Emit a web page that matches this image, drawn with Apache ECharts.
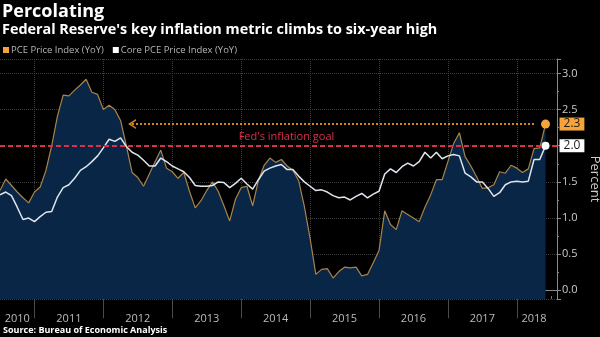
<!DOCTYPE html>
<html>
<head>
<meta charset="utf-8">
<script src="https://cdn.jsdelivr.net/npm/echarts@6/dist/echarts.min.js"></script>
<style>
  html, body { margin: 0; padding: 0; background: #000; }
  #chart { width: 600px; height: 337px; }
</style>
</head>
<body>
<div id="chart"></div>
<script>
// Month-end categories, June 2010 through July 2018
const months = [];
for (let y = 2010, m = 6; y < 2018 || (y === 2018 && m <= 7); m++) {
  if (m > 12) { m = 1; y++; }
  months.push(y + '-' + String(m).padStart(2, '0'));
}

// Where each year's label sits along the axis
const yearLabelMonths = ['2010-09', '2011-06', '2012-06', '2013-06', '2014-06',
                         '2015-06', '2016-06', '2017-06', '2018-03'];

// Personal consumption expenditures price index, % change year over year
const pce = [1.38, 1.54, 1.45, 1.36, 1.28, 1.21, 1.36, 1.43, 1.66, 2.00,
             2.41, 2.70, 2.69, 2.77, 2.84, 2.92, 2.74, 2.71, 2.50, 2.56,
             2.50, 2.35, 2.00, 1.63, 1.56, 1.44, 1.61, 1.78, 1.94, 1.69,
             1.64, 1.55, 1.63, 1.37, 1.14, 1.24, 1.38, 1.50, 1.37, 1.17,
             0.96, 1.26, 1.42, 1.44, 1.17, 1.52, 1.73, 1.83, 1.77, 1.81,
             1.72, 1.66, 1.52, 1.16, 0.72, 0.22, 0.29, 0.30, 0.17, 0.26,
             0.32, 0.31, 0.32, 0.20, 0.22, 0.38, 0.55, 1.10, 0.91, 0.84,
             1.10, 1.05, 1.00, 0.95, 1.15, 1.32, 1.53, 1.53, 1.78, 2.03,
             2.18, 1.85, 1.72, 1.57, 1.41, 1.42, 1.46, 1.64, 1.62, 1.73,
             1.69, 1.63, 1.68, 1.96, 1.97, 2.3];

// Core PCE (excluding food and energy), % change year over year
const core = [1.32, 1.36, 1.31, 1.15, 0.98, 1.00, 0.95, 1.02, 1.08, 1.09,
              1.29, 1.42, 1.46, 1.55, 1.66, 1.71, 1.78, 1.86, 1.97, 2.09,
              2.06, 2.11, 1.99, 1.91, 1.87, 1.80, 1.72, 1.72, 1.83, 1.78,
              1.72, 1.68, 1.64, 1.56, 1.45, 1.44, 1.44, 1.45, 1.50, 1.49,
              1.42, 1.48, 1.55, 1.47, 1.40, 1.53, 1.65, 1.69, 1.72, 1.74,
              1.67, 1.67, 1.58, 1.50, 1.44, 1.38, 1.39, 1.36, 1.31, 1.28,
              1.29, 1.25, 1.30, 1.34, 1.28, 1.33, 1.37, 1.61, 1.68, 1.63,
              1.71, 1.76, 1.72, 1.78, 1.91, 1.83, 1.91, 1.82, 1.86, 1.88,
              1.86, 1.62, 1.57, 1.50, 1.50, 1.41, 1.30, 1.35, 1.46, 1.50,
              1.51, 1.50, 1.51, 1.81, 1.81, 2.0];

const fedGoal = 2.0;
const latestMonth = '2018-05';
const arrowFrom = '2018-03';
const arrowTo = '2012-05';

const FONT = 'Open Sans';
const chart = echarts.init(document.getElementById('chart'), null, { renderer: 'canvas' });

chart.setOption({
  animation: false,
  backgroundColor: '#000',
  textStyle: { fontFamily: FONT },
  title: [
    { text: 'Percolating', left: 2, top: 3, padding: 0,
      textStyle: { color: '#fff', fontSize: 18, fontWeight: 'bold', fontFamily: FONT } },
    { text: "Federal Reserve's key inflation metric climbs to six-year high", left: 2, top: 23, padding: 0,
      textStyle: { color: '#fff', fontSize: 14.4, fontWeight: 'bold', fontFamily: FONT } },
    { text: 'Source: Bureau of Economic Analysis', left: 3, top: 326, padding: 0,
      textStyle: { color: '#fff', fontSize: 9, fontWeight: 'bold', fontFamily: FONT } }
  ],
  legend: {
    left: 3, top: 45, padding: 0, itemGap: 9,
    icon: 'rect', itemWidth: 6, itemHeight: 6,
    textStyle: { color: '#b4b4b4', fontSize: 9.5, fontFamily: FONT, padding: [0, 0, 0, -3] },
    data: ['PCE Price Index (YoY)', 'Core PCE Price Index (YoY)']
  },
  grid: { left: 0, right: 43, top: 59, bottom: 38, outerBoundsMode: 'none', containLabel: false },
  xAxis: [{
    type: 'category', data: months, boundaryGap: false,
    axisLine: { lineStyle: { color: '#8a8a8a', width: 1 } },
    axisTick: { interval: (i, v) => v.endsWith('-12'), length: 28, lineStyle: { color: '#4a4a4a' } },
    axisLabel: { interval: (i, v) => yearLabelMonths.includes(v), formatter: v => v.slice(0, 4),
                 color: '#bbb', fontSize: 11, margin: 14, fontFamily: FONT },
    splitLine: { show: true, interval: (i, v) => v.endsWith('-12'),
                 lineStyle: { color: '#3c3c3c', type: 'dotted' } }
  }, {
    type: 'category', data: months, boundaryGap: false, position: 'bottom',
    axisLine: { show: false }, axisLabel: { show: false }, splitLine: { show: false },
    axisTick: { inside: true, length: 3, interval: (i, v) => ['03', '06', '09', '12'].includes(v.slice(5)),
                lineStyle: { color: '#777' } }
  }],
  yAxis: {
    type: 'value', position: 'right', min: -0.12, max: 3.2, splitNumber: 7,
    axisLine: { show: true, lineStyle: { color: '#8a8a8a' } },
    axisTick: { show: true, length: 4, lineStyle: { color: '#8a8a8a' } },
    minorTick: { show: true, splitNumber: 2, length: 2, lineStyle: { color: '#8a8a8a' } },
    axisLabel: {
      color: '#ccc', fontSize: 11, margin: 5, fontFamily: FONT,
      showMinLabel: false, showMaxLabel: false,
      formatter: v => (v >= 0 && Math.abs(v * 2 - Math.round(v * 2)) < 1e-6) ? v.toFixed(1) : ''
    },
    splitLine: { lineStyle: { color: '#3c3c3c', type: 'dotted' } },
    name: 'Percent', nameLocation: 'middle', nameRotate: -90, nameGap: 28,
    nameTextStyle: { color: '#ccc', fontSize: 13, fontFamily: FONT }
  },
  series: [{
    name: 'PCE Price Index (YoY)', type: 'line', data: pce, showSymbol: false, z: 2,
    lineStyle: { color: '#a8834a', width: 1.2 },
    itemStyle: { color: '#f5a33a' },
    areaStyle: { color: '#0a2647', opacity: 1, origin: 'start' },
    emphasis: { disabled: true },
    endLabel: {
      show: true, distance: 14, formatter: p => Number(p.value).toFixed(1),
      backgroundColor: '#f5a33a', color: '#1a1a1a', fontSize: 12, fontFamily: FONT,
      padding: [0, 4], lineHeight: 13
    },
    markLine: {
      silent: true, animation: false,
      symbol: ['none', 'path://M0,9 L5,0 L10,9 L8.4,9 L5,3.2 L1.6,9 Z'], symbolSize: [10, 8],
      lineStyle: { color: '#d48a22', type: 'dotted', width: 2 },
      label: { show: false },
      data: [[{ coord: [arrowFrom, 2.3] }, { coord: [arrowTo, 2.3] }]]
    },
    markPoint: {
      silent: true, symbol: 'circle', symbolSize: 9,
      itemStyle: { color: '#f5a33a' }, label: { show: false },
      data: [{ coord: [latestMonth, pce[pce.length - 1]] }]
    }
  }, {
    name: 'Core PCE Price Index (YoY)', type: 'line', data: core, showSymbol: false, z: 3,
    lineStyle: { color: '#dfe5ee', width: 1.5 },
    itemStyle: { color: '#ffffff' },
    emphasis: { disabled: true },
    endLabel: {
      show: true, distance: 14, formatter: p => Number(p.value).toFixed(1),
      backgroundColor: '#ffffff', color: '#1a1a1a', fontSize: 12, fontFamily: FONT,
      padding: [0, 4], lineHeight: 13
    },
    markLine: {
      silent: true, animation: false, symbol: 'none',
      lineStyle: { color: '#d9304a', type: [5, 3], width: 2 },
      label: { show: true, position: 'insideMiddleTop', formatter: "Fed's inflation goal",
               color: '#d9304a', fontSize: 11, distance: 3, offset: [8, 0], fontFamily: FONT },
      data: [{ yAxis: fedGoal }]
    },
    markPoint: {
      silent: true, symbol: 'circle', symbolSize: 8,
      itemStyle: { color: '#ffffff' }, label: { show: false },
      data: [{ coord: [latestMonth, core[core.length - 1]] }]
    }
  }]
});
</script>
</body>
</html>
